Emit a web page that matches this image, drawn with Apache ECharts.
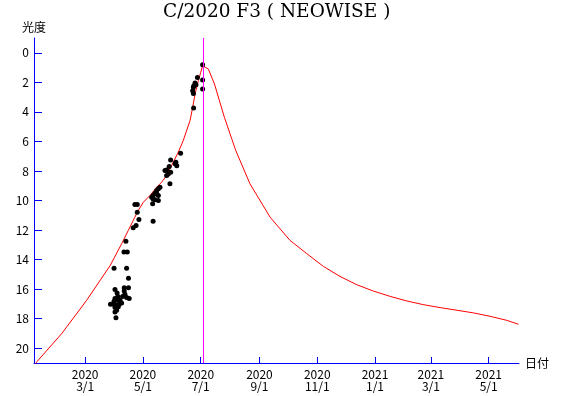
<!DOCTYPE html>
<html><head><meta charset="utf-8">
<script src="https://cdn.jsdelivr.net/npm/echarts@6/dist/echarts.min.js"></script>
<style>html,body{margin:0;padding:0;background:#fff}#c{width:568px;height:396px}</style>
</head><body><div id="c"></div>
<script>
const titleText = 'C/2020 F3 ( NEOWISE )';
const xAxisName = '日付';
const yAxisName = '光度';

// Predicted light curve (red line)
const curveDates = [
  '2020-01-07 00:00','2020-01-10 12:00','2020-02-05 06:00','2020-03-02 12:00','2020-03-27 06:00',
  '2020-04-08 12:00','2020-04-15 12:00','2020-04-20 18:00','2020-04-26 00:00','2020-05-01 12:00',
  '2020-05-08 12:00','2020-05-15 12:00','2020-05-20 18:00','2020-05-26 00:00','2020-05-29 12:00',
  '2020-06-02 00:00','2020-06-07 06:00','2020-06-12 12:00','2020-06-19 18:00','2020-06-22 12:00',
  '2020-06-25 00:00','2020-06-28 12:00','2020-07-01 00:00','2020-07-03 00:00','2020-07-04 12:00',
  '2020-07-09 00:00','2020-07-15 12:00','2020-07-26 00:00','2020-08-07 00:00','2020-08-22 00:00',
  '2020-09-12 06:00','2020-10-03 06:00','2020-10-21 00:00','2020-11-07 12:00','2020-11-25 00:00',
  '2020-12-12 18:00','2020-12-30 06:00','2021-01-17 00:00','2021-02-03 12:00','2021-02-21 00:00',
  '2021-03-10 18:00','2021-03-28 12:00','2021-04-15 00:00','2021-05-02 12:00','2021-05-20 00:00',
  '2021-06-01 12:00'
];
const curveMags = [
  21.15, 20.88, 19.01, 16.76, 14.42,
  12.93, 12.03, 11.35, 10.68, 10.11,
  9.66, 9.10, 8.76, 8.31, 7.86,
  7.41, 6.74, 5.95, 4.59, 3.70,
  2.79, 1.89, 1.33, 0.88, 0.80,
  1.10, 2.11, 4.37, 6.62, 8.87,
  11.13, 12.70, 13.60, 14.46, 15.14,
  15.70, 16.13, 16.49, 16.80, 17.05,
  17.25, 17.43, 17.61, 17.84, 18.11,
  18.38
];

// Observations (black dots)
const obsDates = [
  '2020-04-22 12:00','2020-04-25 00:00','2020-04-25 00:00','2020-04-26 18:00','2020-04-23 18:00',
  '2020-04-20 18:00','2020-04-13 00:00','2020-04-11 00:00','2020-04-14 12:00','2020-03-31 12:00',
  '2020-04-13 18:00','2020-04-15 18:00','2020-04-11 06:00','2020-04-15 18:00','2020-04-01 12:00',
  '2020-04-03 18:00','2020-04-11 06:00','2020-04-12 00:00','2020-04-13 18:00','2020-04-16 12:00',
  '2020-04-01 12:00','2020-04-03 18:00','2020-04-06 18:00','2020-04-08 12:00','2020-04-06 00:00',
  '2020-04-03 06:00','2020-03-30 18:00','2020-03-27 18:00','2020-04-01 12:00','2020-04-03 06:00',
  '2020-04-01 12:00','2020-04-02 12:00','2020-04-04 12:00','2020-04-09 12:00','2020-03-31 12:00',
  '2020-04-05 00:00',
  '2020-05-19 00:00','2020-05-17 06:00','2020-05-15 12:00','2020-05-13 18:00','2020-05-11 18:00',
  '2020-05-10 06:00','2020-05-11 18:00','2020-05-13 18:00','2020-05-15 12:00','2020-05-17 06:00',
  '2020-05-17 06:00','2020-05-11 06:00','2020-05-11 18:00','2020-05-29 12:00','2020-05-30 06:00',
  '2020-05-28 18:00','2020-05-26 00:00','2020-05-24 06:00','2020-05-27 18:00','2020-05-30 06:00',
  '2020-06-04 00:00','2020-06-05 18:00','2020-06-04 18:00','2020-06-09 18:00','2020-05-26 00:00',
  '2020-06-23 12:00','2020-06-22 12:00','2020-06-23 06:00','2020-06-23 18:00','2020-06-25 00:00',
  '2020-06-26 00:00','2020-06-27 12:00','2020-06-23 06:00','2020-07-03 00:00','2020-07-03 00:00',
  '2020-07-03 00:00'
];
const obsMags = [
  10.27, 10.27, 10.79, 11.28, 11.69,
  11.84, 12.75, 13.49, 13.49, 14.59,
  14.59, 15.27, 15.90, 15.90, 16.03,
  16.26, 16.13, 16.35, 16.57, 16.64,
  16.64, 16.76, 16.76, 16.94, 17.03,
  17.09, 17.03, 17.03, 17.25, 17.43,
  17.55, 17.93, 16.49, 16.49, 16.82,
  17.20,
  9.10, 9.21, 9.32, 9.51, 9.66,
  9.78, 9.89, 9.95, 9.55, 9.66,
  10.00, 10.22, 11.40, 8.87, 7.25,
  7.70, 7.93, 7.97, 8.20, 8.09,
  7.52, 7.64, 7.41, 6.80, 8.31,
  3.74, 2.57, 2.75, 2.23, 2.05,
  2.16, 1.67, 2.34, 0.81, 1.84,
  2.45
];

const xTickDates = ['2020-03-01','2020-05-01','2020-07-01','2020-09-01','2020-11-01','2021-01-01','2021-03-01','2021-05-01'];
const yTicks = [0, 2, 4, 6, 8, 10, 12, 14, 16, 18, 20];
const xMinDate = '2020-01-07';
const xMaxDate = '2021-06-02';
const yMin = -1, yMax = 21;
const perihelionDate = '2020-07-03 16:00';

function toTime(s) {
  const parts = s.split(' ');
  const d = parts[0].split('-').map(Number);
  let h = 0, m = 0;
  if (parts[1]) { const t = parts[1].split(':').map(Number); h = t[0]; m = t[1]; }
  return new Date(d[0], d[1] - 1, d[2], h, m).getTime();
}

const curveData = curveDates.map((d, i) => [toTime(d), curveMags[i]]);
const obsData = obsDates.map((d, i) => [toTime(d), obsMags[i]]);
const xTickValues = xTickDates.map(toTime);

const labelFont = 'Noto Sans CJK JP';
const chart = echarts.init(document.getElementById('c'), null, {renderer: 'canvas'});
chart.setOption({
  animation: false,
  backgroundColor: '#ffffff',
  title: {
    text: titleText, left: 163, top: 3, padding: 0,
    textStyle: {fontFamily: 'DejaVu Serif', fontSize: 18.5, fontWeight: 'normal', color: '#000'}
  },
  grid: {left: 34, right: 49, top: 38, bottom: 33},
  xAxis: {
    type: 'value', min: toTime(xMinDate), max: toTime(xMaxDate), scale: true,
    name: xAxisName, nameLocation: 'end', nameGap: 6,
    nameTextStyle: {color: '#000', fontSize: 12, fontFamily: labelFont},
    axisLine: {onZero: false, lineStyle: {color: '#0000ff', width: 1}},
    axisTick: {inside: true, length: 6, lineStyle: {color: '#0000ff', width: 1}, customValues: xTickValues},
    axisLabel: {
      customValues: xTickValues, color: '#000', fontSize: 12, lineHeight: 12, margin: 5, fontFamily: labelFont,
      formatter: function (v) { const d = new Date(v); return d.getFullYear() + '\n' + (d.getMonth() + 1) + '/' + d.getDate(); }
    },
    splitLine: {show: false}
  },
  yAxis: {
    type: 'value', inverse: true, min: yMin, max: yMax,
    name: yAxisName, nameLocation: 'start', nameGap: 5,
    nameTextStyle: {color: '#000', fontSize: 12, fontFamily: labelFont},
    axisLine: {show: true, onZero: false, lineStyle: {color: '#0000ff', width: 1}},
    axisTick: {show: true, inside: true, length: 8, lineStyle: {color: '#0000ff', width: 1}, customValues: yTicks},
    axisLabel: {customValues: yTicks, color: '#000', fontSize: 12, margin: 5, fontFamily: labelFont},
    splitLine: {show: false}
  },
  series: [
    {
      type: 'line', data: curveData, showSymbol: false, smooth: false,
      lineStyle: {color: '#ff0000', width: 1}, z: 2,
      markLine: {
        silent: true, symbol: 'none', label: {show: false},
        lineStyle: {color: '#ff00ff', type: 'solid', width: 1},
        data: [{xAxis: toTime(perihelionDate)}]
      }
    },
    {
      type: 'scatter', data: obsData, symbol: 'circle', symbolSize: 5,
      itemStyle: {color: '#000', opacity: 1}, z: 3
    }
  ]
});
</script>
</body></html>
